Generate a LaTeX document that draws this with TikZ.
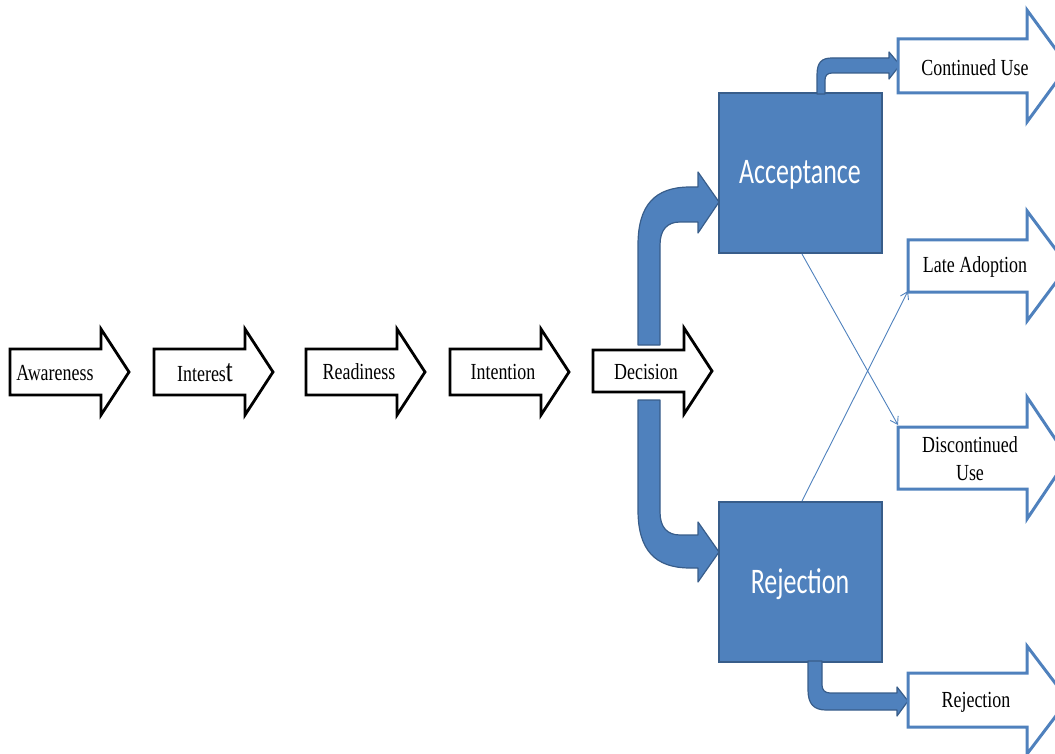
\documentclass[tikz,border=0pt]{standalone}
\usepackage{fontspec}
\setmainfont{Liberation Serif}
\newfontfamily\boxfont{Carlito}
\usetikzlibrary{arrows.meta}

\definecolor{officeblue}{HTML}{4F81BD}
\definecolor{officeedge}{HTML}{385D8A}

% block arrow: style, body left, head base, tip, centre y, half body, half head
\newcommand\blockarrow[7]{%
  \draw[#1] (#2,{#5-#6}) -- (#3,{#5-#6}) -- (#3,{#5-#7}) -- (#4,#5)
    -- (#3,{#5+#7}) -- (#3,{#5+#6}) -- (#2,{#5+#6}) -- cycle;}
\newcommand\sqz[1]{\scalebox{0.78}[1]{#1}}

\tikzset{
  stagearrow/.style={draw=black, line width=2.8pt, fill=white, line join=miter},
  outarrow/.style={draw=officeblue, line width=3pt, fill=white, line join=miter},
  bentarrow/.style={draw=officeedge, line width=1.2pt, fill=officeblue, line join=round},
  bluebox/.style={draw=officeedge, line width=2pt, fill=officeblue, text=white,
    font=\boxfont\fontsize{36}{40}\selectfont, inner sep=0pt},
  stagelabel/.style={inner sep=0pt, font=\fontsize{23}{28}\selectfont, align=center},
  thinlink/.style={draw=officeblue, line width=0.9pt, -{Straight Barb[length=7pt,width=9pt]}}
}

\begin{document}
\begin{tikzpicture}[x=1pt,y=-1pt]
\useasboundingbox (0,0) rectangle (1055,754);
\clip (0,0) rectangle (1055,754);

% bent arrows leaving the decision stage
\draw[bentarrow] (638,345) -- (638,245) .. controls (638,205) and (655,187) .. (690,187)
  -- (698,187) -- (698,172) -- (719,202) -- (698,233) -- (698,222) -- (680,222)
  .. controls (667,222) and (660,230) .. (660,245) -- (660,345) -- cycle;
\draw[bentarrow] (638,400) -- (638,510) .. controls (638,550) and (655,568) .. (690,568)
  -- (698,568) -- (698,582) -- (719,552) -- (698,522) -- (698,535) -- (680,535)
  .. controls (667,535) and (660,527) .. (660,512) -- (660,400) -- cycle;

% stage arrows
\blockarrow{stagearrow}{10}{101}{129}{372}{23}{43}
\blockarrow{stagearrow}{154}{245}{273}{372}{23}{43}
\blockarrow{stagearrow}{306}{397}{425}{372}{23}{43}
\blockarrow{stagearrow}{450}{541}{569}{372}{23}{43}
\blockarrow{stagearrow}{593}{684}{712}{371}{21}{43}

\node[stagelabel] (aware) at (55,373) {\sqz{Awareness}};
\node[stagelabel] (inter) at (205,373) {\sqz{Interes{\fontsize{32}{32}\selectfont t}}};
\node[stagelabel] (ready) at (359,372) {\sqz{Readiness}};
\node[stagelabel] (inten) at (503,372) {\sqz{Intention}};
\node[stagelabel] (decis) at (646,372) {\sqz{Decision}};

% decision outcomes
\node[bluebox, minimum width=163pt, minimum height=160pt] (acc) at (800.5,173) {};
\node[text=white, font=\boxfont\fontsize{36}{40}\selectfont, inner sep=0pt] (acctext) at (800,175) {\scalebox{0.72}[1]{Acceptance}};
\node[bluebox, minimum width=163pt, minimum height=160pt] (rej) at (800.5,582) {};
\node[text=white, font=\boxfont\fontsize{36}{40}\selectfont, inner sep=0pt] (rejtext) at (800,584) {\scalebox{0.72}[1]{Rejection}};

% small bent arrows
\draw[bentarrow] (817,94) -- (817,75) .. controls (817,62) and (822,58) .. (832,58)
  -- (889,58) -- (889,52) -- (900,65) -- (889,79) -- (889,73) -- (832,73)
  .. controls (827,73) and (825,76) .. (825,80) -- (825,94) -- cycle;
\draw[bentarrow] (808,661) -- (808,690) .. controls (808,704) and (814,710) .. (826,710)
  -- (897,710) -- (897,716) -- (908,701) -- (897,687) -- (897,693) -- (830,693)
  .. controls (825,693) and (822,690) .. (822,685) -- (822,661) -- cycle;

% outcome arrows
\blockarrow{outarrow}{898}{1027}{1068}{66}{27}{56}
\blockarrow{outarrow}{908}{1027}{1068}{266}{26}{55}
\blockarrow{outarrow}{898}{1027}{1068}{458}{31}{61}
\blockarrow{outarrow}{908}{1027}{1068}{700}{27}{54}

\node[stagelabel] (cont) at (975,68) {\sqz{Continued Use}};
\node[stagelabel] (late) at (975,267) {\sqz{Late Adoption}};
\node[stagelabel] (disc) at (970,459) {\sqz{Discontinued}\\\sqz{Use}};
\node[stagelabel] (rejout) at (976,702) {\sqz{Rejection}};

% crossing links
\coordinate (discin) at (898,425);
\coordinate (latein) at (908,291);
\draw[thinlink] ([xshift=1.5pt]acc.south) -- (discin);
\draw[thinlink] ([xshift=1.5pt]rej.north) -- (latein);
\end{tikzpicture}
\end{document}
